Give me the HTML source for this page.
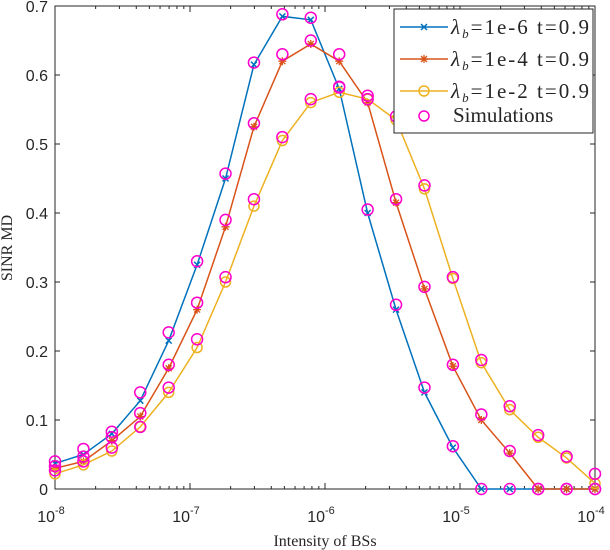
<!DOCTYPE html>
<html><head><meta charset="utf-8"><style>
html,body{margin:0;padding:0;background:#fff;}
svg{display:block;}
text{fill:#262626;}
</style></head><body>
<svg id="chart" width="610" height="550" xmlns="http://www.w3.org/2000/svg"></svg>
<script>
const exponents=[-8,-7,-6,-5,-4];
const yTicks=[0,0.1,0.2,0.3,0.4,0.5,0.6,0.7];
const seriesA=[0.037,0.05,0.08,0.128,0.215,0.325,0.45,0.615,0.685,0.68,0.58,0.40,0.26,0.14,0.06,0,0,0,0,0];
const seriesB=[0.03,0.04,0.07,0.105,0.175,0.26,0.38,0.525,0.62,0.645,0.62,0.56,0.415,0.29,0.178,0.10,0.052,0,0,0];
const seriesC=[0.022,0.035,0.055,0.09,0.14,0.205,0.30,0.41,0.505,0.56,0.575,0.565,0.535,0.435,0.305,0.183,0.115,0.075,0.045,0.008];
const simA=[0.04,0.058,0.083,0.14,0.227,0.33,0.457,0.618,0.688,0.683,0.582,0.405,0.267,0.147,0.062,0,0,0,0,0];
const simB=[0.033,0.047,0.075,0.11,0.18,0.27,0.39,0.53,0.63,0.65,0.63,0.565,0.42,0.293,0.18,0.108,0.055,0,0,0];
const simC=[0.027,0.04,0.06,0.09,0.147,0.217,0.307,0.42,0.51,0.565,0.583,0.57,0.54,0.44,0.307,0.187,0.12,0.078,0.047,0.022];
const NS="http://www.w3.org/2000/svg";
const svg=document.getElementById('chart');
const X0=55,X1=595,Y0=489,Y1=6;
const xs=v=>X0+(v+8)/4*(X1-X0);
const ys=v=>Y0-v/0.7*(Y0-Y1);
const xi=i=>xs(-8+4*i/19);
function el(t,a,p){const e=document.createElementNS(NS,t);for(const k in a)e.setAttribute(k,a[k]);(p||svg).appendChild(e);return e;}
const box=el('rect',{x:X0,y:Y1,width:X1-X0,height:Y0-Y1,fill:'none',stroke:'#262626','stroke-width':1});


yTicks.forEach(v=>{
  el('line',{x1:X0,x2:X0+5,y1:ys(v),y2:ys(v),stroke:'#262626'});
  el('line',{x1:X1,x2:X1-5,y1:ys(v),y2:ys(v),stroke:'#262626'});
  const t=el('text',{x:X0-7,y:ys(v)+6,'text-anchor':'end','font-family':'Liberation Sans, sans-serif','font-size':16});
  t.textContent=v===0?'0':v.toFixed(1);
  
  
});
exponents.forEach(e=>{
  const x=xs(e);
  el('line',{x1:x,x2:x,y1:Y0,y2:Y0-6,stroke:'#262626'});
  el('line',{x1:x,x2:x,y1:Y1,y2:Y1+6,stroke:'#262626'});
  if(e<-4){for(let m=2;m<10;m++){const xm=xs(e+Math.log10(m));
    el('line',{x1:xm,x2:xm,y1:Y0,y2:Y0-3,stroke:'#262626'});
    el('line',{x1:xm,x2:xm,y1:Y1,y2:Y1+3,stroke:'#262626'});}}
  const t=el('text',{x:x-4,y:522,'text-anchor':'middle','font-family':'Liberation Sans, sans-serif','font-size':16});
  t.innerHTML='10<tspan dy="-8" font-size="11">'+e+'</tspan>';
  
  
});
const xl=el('text',{x:325,y:546,'text-anchor':'middle','font-family':'Liberation Serif, serif','font-size':16});
xl.textContent='Intensity of BSs';


const yl=el('text',{x:12,y:248,'text-anchor':'middle','font-family':'Liberation Serif, serif','font-size':16,transform:'rotate(-90 12 248)'});
yl.textContent='SINR MD';


function marker(type,x,y,c,g){
  if(type==='x'){el('path',{d:`M${x-3},${y-3}L${x+3},${y+3}M${x-3},${y+3}L${x+3},${y-3}`,stroke:c,'stroke-width':1.5},g);}
  else if(type==='*'){el('path',{d:`M${x-4},${y}L${x+4},${y}M${x},${y-4}L${x},${y+4}M${x-3},${y-3}L${x+3},${y+3}M${x-3},${y+3}L${x+3},${y-3}`,stroke:c,'stroke-width':1.3},g);}
  else {el('circle',{cx:x,cy:y,r:5,fill:'none',stroke:c,'stroke-width':1.5},g);}
}
const series=[[seriesA,'#0072BD','x','series-1e-6'],[seriesB,'#D95319','*','series-1e-4'],[seriesC,'#EDB120','o','series-1e-2']];
series.forEach(([d,c,m,n])=>{
  const g=el('g',{});
  
  
  el('polyline',{points:d.map((v,i)=>xi(i)+','+ys(v)).join(' '),fill:'none',stroke:c,'stroke-width':1.5},g);
  d.forEach((v,i)=>marker(m,xi(i),ys(v),c,g));
});
const gs=el('g',{});


[simA,simB,simC].forEach(d=>d.forEach((v,i)=>{
  el('circle',{cx:xi(i),cy:ys(v),r:5.5,fill:'none',stroke:'#FF00CC','stroke-width':1.5},gs);
}));
const lg=el('g',{});


el('rect',{x:394,y:9,width:199,height:124,fill:'#fff',stroke:'#262626'},lg);
const labels=['=1e-6 t=0.9','=1e-4 t=0.9','=1e-2 t=0.9'];
series.forEach(([d,c,m],k)=>{
  const y=27+k*32;
  el('line',{x1:400,x2:448,y1:y,y2:y,stroke:c,'stroke-width':1.5},lg);
  marker(m,424,y,c,lg);
  const t=el('text',{x:451,y:y+7,'font-family':'Liberation Serif, serif','font-size':21,'textLength':138},lg);
  t.innerHTML='<tspan font-style="italic">λ</tspan><tspan dy="4" font-size="13" font-style="italic">b</tspan><tspan dy="-4">'+labels[k]+'</tspan>';
  
  
});
el('circle',{cx:424,cy:116,r:5,fill:'none',stroke:'#FF00CC','stroke-width':1.5},lg);
const st=el('text',{x:453,y:122,'font-family':'Liberation Serif, serif','font-size':21},lg);
st.textContent='Simulations';


</script>
</body></html>
